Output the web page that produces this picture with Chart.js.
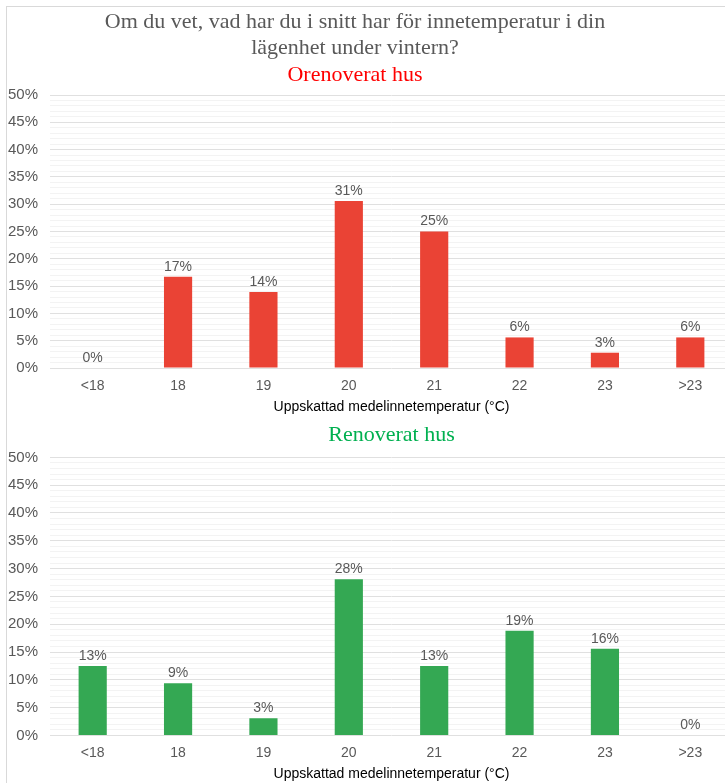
<!DOCTYPE html>
<html>
<head>
<meta charset="utf-8">
<script src="https://cdn.jsdelivr.net/npm/chart.js@4.4.1/dist/chart.umd.min.js"></script>
<style>
  html, body { margin: 0; padding: 0; overflow: hidden; background: #fff; }
  #page { position: relative; width: 725px; height: 783px; overflow: hidden; }
  #frame { position: absolute; left: 6px; top: 6px; width: 800px; height: 800px; border: 1px solid #d9d9d9; }
  #header {
    position: absolute; left: 0; top: 7.5px; width: 710px; text-align: center;
    font-family: 'Liberation Serif', 'Times New Roman', serif; font-size: 22px; line-height: 26.5px; color: #595959;
  }
  #header .sub { color: #ff0000; }
  .box { position: absolute; left: 0; width: 733px; }
  #topBox { top: 0; height: 418px; }
  #bottomBox { top: 418px; height: 367.4px; }
</style>
</head>
<body>
<div id="page">
  <div id="frame"></div>
  <div class="box" id="topBox"><canvas id="topChart"></canvas></div>
  <div class="box" id="bottomBox"><canvas id="bottomChart"></canvas></div>
  <div id="header">Om du vet, vad har du i snitt har för innetemperatur i din<br>lägenhet under vintern?<br><span class="sub">Orenoverat hus</span></div>
</div>
<script>
const categories = ['<18', '18', '19', '20', '21', '22', '23', '>23'];
const unrenovated = [0, 16.7, 13.9, 30.6, 25, 5.6, 2.8, 5.6];
const renovated = [12.5, 9.4, 3.1, 28.1, 12.5, 18.8, 15.6, 0];
const xTitle = 'Uppskattad medelinnetemperatur (°C)';
const yMax = 50;

const sans = "'Liberation Sans', Arial, sans-serif";
const serif = "'Liberation Serif', 'Times New Roman', serif";

// draws the rounded percentage above each bar
const barLabels = {
  id: 'barLabels',
  afterDatasetsDraw(chart) {
    const { ctx } = chart;
    const meta = chart.getDatasetMeta(0);
    const values = chart.data.datasets[0].data;
    ctx.save();
    ctx.font = '14px ' + sans;
    ctx.fillStyle = '#595959';
    ctx.textAlign = 'center';
    ctx.textBaseline = 'middle';
    meta.data.forEach((bar, i) => {
      ctx.fillText(Math.round(values[i]) + '%', bar.x, bar.y - 10);
    });
    ctx.restore();
  },
};

function makeChart(id, values, color, heading, padTop) {
  const plugins = {
    legend: { display: false },
    tooltip: { enabled: false },
    title: { display: false },
  };
  if (heading) {
    plugins.title = {
      display: true,
      text: heading.text,
      color: heading.color,
      fullSize: false,
      font: { family: serif, size: 22, weight: 'normal' },
      padding: { top: 4, bottom: 9 },
    };
  }
  return new Chart(document.getElementById(id), {
    type: 'bar',
    data: {
      labels: categories,
      datasets: [
        {
          data: values,
          backgroundColor: color,
          barPercentage: 0.33,
          categoryPercentage: 1,
        },
      ],
    },
    options: {
      responsive: true,
      maintainAspectRatio: false,
      animation: false,
      layout: { padding: { top: padTop, bottom: 0, left: 0, right: 0 } },
      plugins,
      scales: {
        x: {
          grid: { display: false, drawTicks: false },
          border: { display: false },
          ticks: { color: '#595959', font: { family: sans, size: 14, lineHeight: 1 }, padding: 11 },
          title: {
            display: true,
            text: xTitle,
            color: '#000',
            font: { family: sans, size: 14, lineHeight: 1 },
            padding: { top: -4, bottom: 4 },
          },
        },
        y: {
          min: 0,
          max: yMax,
          afterFit(scale) { scale.width = 50; },
          border: { display: false },
          grid: {
            drawTicks: false,
            color: (c) => (c.tick && c.tick.value % 5 === 0 ? '#e0e0e0' : '#f3f3f3'),
          },
          ticks: {
            stepSize: 1,
            autoSkip: false,
            padding: 12,
            color: '#595959',
            font: { family: sans, size: 15 },
            callback: (v) => (v % 5 === 0 ? v + '%' : ''),
          },
        },
      },
    },
    plugins: [barLabels],
  });
}

makeChart('topChart', unrenovated, '#ea4335', null, 95);
makeChart('bottomChart', renovated, '#34a853', { text: 'Renoverat hus', color: '#00b050' }, 0);
</script>
</body>
</html>
